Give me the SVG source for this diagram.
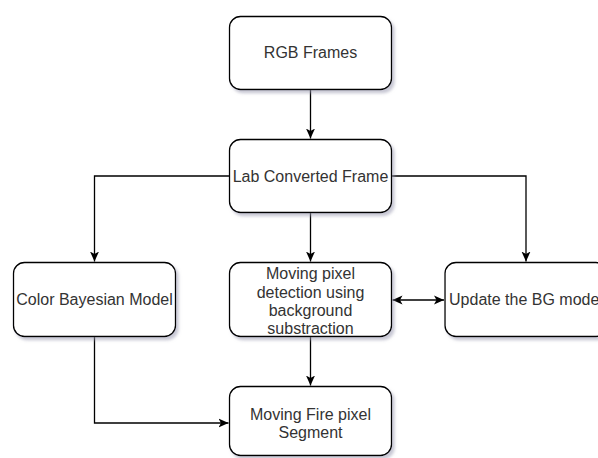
<svg xmlns="http://www.w3.org/2000/svg" width="598" height="458" viewBox="0 0 598 458">
  <style>
    .box { fill: #ffffff; stroke: #000000; stroke-width: 1.3; filter: url(#shadow); }
    .lbl { font-family: "Liberation Sans", Arial, Helvetica, sans-serif; font-size: 16px; fill: #333333; text-anchor: middle; }
    .edge { fill: none; stroke: #000000; stroke-width: 1.3; }
  </style>
  <defs>
    <filter id="shadow" x="-10%" y="-10%" width="130%" height="140%">
      <feDropShadow dx="2.5" dy="3" stdDeviation="1.6" flood-color="#9a9ab0" flood-opacity="0.55"/>
    </filter>
    <marker id="arrow" viewBox="0 0 10 10" refX="10" refY="5" markerWidth="10" markerHeight="10" markerUnits="userSpaceOnUse" orient="auto">
      <path d="M0,0.5 L10,5 L0,9.5 L2.5,5 Z" fill="#000000"/>
    </marker>
    <marker id="arrowStart" viewBox="0 0 10 10" refX="0" refY="5" markerWidth="10" markerHeight="10" markerUnits="userSpaceOnUse" orient="auto">
      <path d="M10,0.5 L0,5 L10,9.5 L7.5,5 Z" fill="#000000"/>
    </marker>
  </defs>
  <rect width="598" height="458" fill="#ffffff"/>

  <g id="connectors">
    <path class="edge" d="M310.5,89.5 L310.5,138.5" marker-end="url(#arrow)"/>
    <path class="edge" d="M229.5,176 L94.5,176 L94.5,261.5" marker-end="url(#arrow)"/>
    <path class="edge" d="M310.5,212.5 L310.5,261.5" marker-end="url(#arrow)"/>
    <path class="edge" d="M391.5,176 L526,176 L526,261.5" marker-end="url(#arrow)"/>
    <path class="edge" d="M392.5,300 L444,300" marker-start="url(#arrowStart)" marker-end="url(#arrow)"/>
    <path class="edge" d="M310.5,336.5 L310.5,385.5" marker-end="url(#arrow)"/>
    <path class="edge" d="M94.5,336.5 L94.5,423 L228.5,423" marker-end="url(#arrow)"/>
  </g>

  <g id="rgb-frames">
    <rect class="box" x="229.5" y="16.5" width="162" height="73" rx="11" ry="11"/>
    <text class="lbl" x="310.5" y="58">RGB Frames</text>
  </g>

  <g id="lab-converted-frame">
    <rect class="box" x="229.5" y="139.5" width="162" height="73" rx="11" ry="11"/>
    <text class="lbl" x="310.5" y="181.5">Lab Converted Frame</text>
  </g>

  <g id="color-bayesian-model">
    <rect class="box" x="13.5" y="262.5" width="162" height="74" rx="11" ry="11"/>
    <text class="lbl" x="94.5" y="305">Color Bayesian Model</text>
  </g>

  <g id="moving-pixel-detection">
    <rect class="box" x="229.5" y="262.5" width="162" height="74" rx="11" ry="11"/>
    <text class="lbl" x="310.5" y="279">Moving pixel</text>
    <text class="lbl" x="310.5" y="297.5">detection using</text>
    <text class="lbl" x="310.5" y="315.5">background</text>
    <text class="lbl" x="310.5" y="333.5">substraction</text>
  </g>

  <g id="update-bg-model">
    <rect class="box" x="445" y="262.5" width="162" height="74" rx="11" ry="11"/>
    <text class="lbl" x="526" y="305">Update the BG model</text>
  </g>

  <g id="moving-fire-pixel-segment">
    <rect class="box" x="229.5" y="386.5" width="162" height="69" rx="11" ry="11"/>
    <text class="lbl" x="310.5" y="419.5">Moving Fire pixel</text>
    <text class="lbl" x="310.5" y="437.5">Segment</text>
  </g>
</svg>
